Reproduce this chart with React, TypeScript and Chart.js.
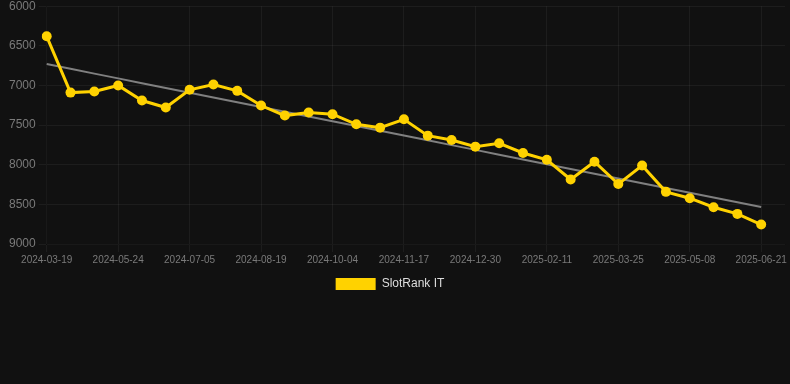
import React, { useEffect, useRef } from "react";
import { Chart, registerables } from "chart.js";

Chart.register(...registerables);

const categories: string[] = [
  "2024-03-19", "2024-04-10", "2024-05-02", "2024-05-24", "2024-06-07", "2024-06-21",
  "2024-07-05", "2024-07-20", "2024-08-04", "2024-08-19", "2024-09-03", "2024-09-19",
  "2024-10-04", "2024-10-19", "2024-11-02", "2024-11-17", "2024-12-01", "2024-12-15",
  "2024-12-30", "2025-01-13", "2025-01-27", "2025-02-11", "2025-02-25", "2025-03-11",
  "2025-03-25", "2025-04-09", "2025-04-23", "2025-05-08", "2025-05-22", "2025-06-06",
  "2025-06-21", "2025-07-05",
];

const rankValues: (number | null)[] = [
  6380, 7090, 7076, 7000, 7190, 7278, 7055, 6987, 7068, 7253,
  7380, 7342, 7363, 7490, 7532, 7427, 7633, 7688, 7772, 7730,
  7852, 7937, 8186, 7962, 8244, 8009, 8342, 8422, 8536, 8620,
  8755, null,
];

const yTicks: number[] = [6000, 6500, 7000, 7500, 8000, 8500, 9000];

function trendline(values: (number | null)[]): (number | null)[] {
  const pts: [number, number][] = [];
  values.forEach((v, i) => {
    if (v !== null) pts.push([i, v]);
  });
  const n = pts.length;
  const mx = pts.reduce((s, p) => s + p[0], 0) / n;
  const my = pts.reduce((s, p) => s + p[1], 0) / n;
  let num = 0;
  let den = 0;
  pts.forEach(([x, y]) => {
    num += (x - mx) * (y - my);
    den += (x - mx) * (x - mx);
  });
  const slope = num / den;
  const icpt = my - slope * mx;
  return values.map((v, i) => (v === null ? null : icpt + slope * i));
}

const LEGEND_CENTER = 390;

const legendShift = {
  id: "legendShift",
  afterLayout(chart: any) {
    const l = chart.legend;
    if (!l) return;
    const d = LEGEND_CENTER - (l.left + l.right) / 2;
    l.left += d;
    l.right += d;
  },
};

export default function App() {
  const ref = useRef<HTMLCanvasElement | null>(null);

  useEffect(() => {
    document.body.style.margin = "0";
    document.body.style.background = "#111111";
    if (!ref.current) return;
    Chart.defaults.font.family = "'Liberation Sans', Arial, sans-serif";
    const chart = new Chart(ref.current, {
      type: "line",
      data: {
        labels: categories,
        datasets: [
          {
            label: "SlotRank IT",
            data: rankValues,
            borderColor: "#ffd200",
            backgroundColor: "#ffd200",
            borderWidth: 3,
            pointRadius: 5,
            pointHoverRadius: 5,
            pointBorderWidth: 0,
            pointBackgroundColor: "#ffd200",
            pointBorderColor: "#ffd200",
            tension: 0,
          },
          {
            label: "Trend",
            data: trendline(rankValues),
            borderColor: "#808080",
            backgroundColor: "#808080",
            borderWidth: 2,
            pointRadius: 0,
            tension: 0,
          },
        ],
      },
      plugins: [legendShift],
      options: {
        animation: false,
        responsive: true,
        maintainAspectRatio: false,
        layout: { padding: { left: 6, right: 3, top: 0, bottom: 0 } },
        plugins: {
          legend: {
            position: "bottom",
            labels: {
              color: "#dddddd",
              font: { size: 12 },
              boxWidth: 40,
              boxHeight: 12,
              generateLabels: () => [
                {
                  text: "SlotRank IT",
                  fillStyle: "#ffd200",
                  strokeStyle: "#ffd200",
                  lineWidth: 0,
                  hidden: false,
                  datasetIndex: 0,
                  fontColor: "#dddddd",
                },
              ],
            },
          },
          tooltip: { enabled: false },
        },
        scales: {
          x: {
            grid: { color: "rgba(255,255,255,0.05)" },
            ticks: {
              color: "#7a7a7a",
              font: { size: 10 },
              autoSkip: false,
              maxRotation: 0,
              padding: 2,
              callback: (_v: any, i: number) => (i % 3 === 0 ? categories[i] : null),
            },
          },
          y: {
            reverse: true,
            min: 6000,
            max: 9000,
            afterBuildTicks: (axis: any) => {
              axis.ticks = yTicks.map((v) => ({ value: v }));
            },
            grid: { color: "rgba(255,255,255,0.05)" },
            ticks: {
              color: "#7a7a7a",
              font: { size: 12 },
              callback: (v: any) => String(v),
            },
          },
        },
      },
    });
    return () => chart.destroy();
  }, []);

  return (
    <div style={{ width: 790, height: 304, marginTop: -4, position: "relative" }}>
      <canvas ref={ref} />
    </div>
  );
}
